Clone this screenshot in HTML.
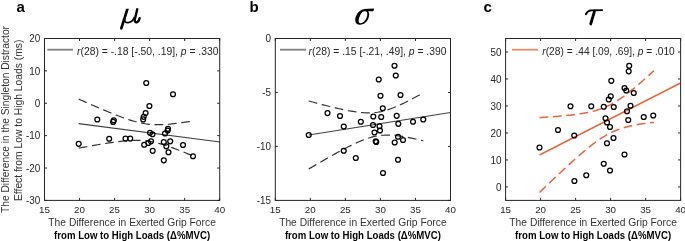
<!DOCTYPE html><html><head><meta charset="utf-8"><style>html,body{margin:0;padding:0;background:#fff;width:685px;height:241px;overflow:hidden}svg{display:block;will-change:transform}text{font-family:"Liberation Sans",sans-serif}</style></head><body>
<svg width="685" height="241" viewBox="0 0 685 241">
<text x="16.6" y="12.4" font-size="15" font-weight="bold" fill="#000">a</text>
<g transform="translate(116,4) scale(0.11619)" fill="none" stroke="#000" stroke-linecap="round"><path d="M87,40 L111,40 L58,208 Q53,222 43,221 Q32,219 35,205 Z" fill="#000" stroke="none"/><path d="M74,128 C70,152 85,163 106,160 C128,157 148,140 156,118" stroke-width="15"/><path d="M183,44 L163,128 C158,150 166,160 178,158 C190,156 199,140 204,122" stroke-width="20"/></g>
<path d="M78.7,99.12 L80.61,99.96 L82.51,100.81 L84.42,101.65 L86.32,102.49 L88.23,103.32 L90.13,104.15 L92.03,104.98 L93.94,105.81 L95.84,106.63 L97.75,107.45 L99.66,108.27 L101.56,109.07 L103.47,109.88 L105.37,110.67 L107.28,111.46 L109.18,112.25 L111.09,113.02 L112.99,113.79 L114.9,114.55 L116.8,115.29 L118.7,116.02 L120.61,116.74 L122.52,117.44 L124.42,118.13 L126.33,118.79 L128.23,119.44 L130.13,120.06 L132.04,120.65 L133.94,121.21 L135.85,121.74 L137.75,122.23 L139.66,122.68 L141.56,123.09 L143.47,123.46 L145.38,123.78 L147.28,124.05 L149.19,124.28 L151.09,124.45 L153,124.58 L154.9,124.67 L156.81,124.71 L158.71,124.72 L160.62,124.69 L162.52,124.62 L164.43,124.53 L166.33,124.4 L168.24,124.26 L170.14,124.09 L172.05,123.9 L173.95,123.69 L175.86,123.47 L177.76,123.23 L179.66,122.98 L181.57,122.72 L183.48,122.45 L185.38,122.18 L187.28,121.89 L189.19,121.59 L191.09,121.29 L193,120.98" fill="none" stroke="#333" stroke-width="1.2" stroke-dasharray="8.8,4.6"/>
<path d="M78.7,148.11 L80.61,147.76 L82.51,147.41 L84.42,147.07 L86.32,146.72 L88.23,146.38 L90.13,146.05 L92.03,145.71 L93.94,145.38 L95.84,145.06 L97.75,144.73 L99.66,144.41 L101.56,144.1 L103.47,143.79 L105.37,143.49 L107.28,143.2 L109.18,142.91 L111.09,142.63 L112.99,142.36 L114.9,142.1 L116.8,141.85 L118.7,141.61 L120.61,141.39 L122.52,141.19 L124.42,141 L126.33,140.83 L128.23,140.68 L130.13,140.56 L132.04,140.46 L133.94,140.39 L135.85,140.36 L137.75,140.37 L139.66,140.41 L141.56,140.49 L143.47,140.62 L145.38,140.8 L147.28,141.02 L149.19,141.29 L151.09,141.61 L153,141.98 L154.9,142.39 L156.81,142.84 L158.71,143.33 L160.62,143.86 L162.52,144.42 L164.43,145.01 L166.33,145.63 L168.24,146.27 L170.14,146.94 L172.05,147.62 L173.95,148.32 L175.86,149.04 L177.76,149.77 L179.66,150.52 L181.57,151.27 L183.48,152.04 L185.38,152.81 L187.28,153.6 L189.19,154.39 L191.09,155.19 L193,155.99" fill="none" stroke="#333" stroke-width="1.2" stroke-dasharray="8.8,4.6"/>
<line x1="78.6" y1="123.6" x2="220.0" y2="142.0" stroke="#404040" stroke-width="1.15"/>
<circle cx="78.7" cy="143.8" r="2.45" fill="none" stroke="#000" stroke-width="1.25"/>
<circle cx="97.3" cy="119.5" r="2.45" fill="none" stroke="#000" stroke-width="1.25"/>
<circle cx="109.2" cy="138.7" r="2.45" fill="none" stroke="#000" stroke-width="1.25"/>
<circle cx="113.8" cy="120.4" r="2.45" fill="none" stroke="#000" stroke-width="1.25"/>
<circle cx="113.1" cy="121.9" r="2.45" fill="none" stroke="#000" stroke-width="1.25"/>
<circle cx="125.5" cy="138.6" r="2.45" fill="none" stroke="#000" stroke-width="1.25"/>
<circle cx="130.2" cy="138.6" r="2.45" fill="none" stroke="#000" stroke-width="1.25"/>
<circle cx="146.25" cy="83" r="2.45" fill="none" stroke="#000" stroke-width="1.25"/>
<circle cx="149.4" cy="106" r="2.45" fill="none" stroke="#000" stroke-width="1.25"/>
<circle cx="145.6" cy="113.1" r="2.45" fill="none" stroke="#000" stroke-width="1.25"/>
<circle cx="143.7" cy="116.8" r="2.45" fill="none" stroke="#000" stroke-width="1.25"/>
<circle cx="143.2" cy="119.4" r="2.45" fill="none" stroke="#000" stroke-width="1.25"/>
<circle cx="173" cy="94.25" r="2.45" fill="none" stroke="#000" stroke-width="1.25"/>
<circle cx="168" cy="128.8" r="2.45" fill="none" stroke="#000" stroke-width="1.25"/>
<circle cx="167.6" cy="130.6" r="2.45" fill="none" stroke="#000" stroke-width="1.25"/>
<circle cx="165" cy="133.5" r="2.45" fill="none" stroke="#000" stroke-width="1.25"/>
<circle cx="150" cy="132.8" r="2.45" fill="none" stroke="#000" stroke-width="1.25"/>
<circle cx="152.5" cy="134.2" r="2.45" fill="none" stroke="#000" stroke-width="1.25"/>
<circle cx="144.2" cy="144.7" r="2.45" fill="none" stroke="#000" stroke-width="1.25"/>
<circle cx="148.3" cy="143" r="2.45" fill="none" stroke="#000" stroke-width="1.25"/>
<circle cx="151" cy="141.3" r="2.45" fill="none" stroke="#000" stroke-width="1.25"/>
<circle cx="152.7" cy="150.8" r="2.45" fill="none" stroke="#000" stroke-width="1.25"/>
<circle cx="163.8" cy="142" r="2.45" fill="none" stroke="#000" stroke-width="1.25"/>
<circle cx="166.3" cy="146.3" r="2.45" fill="none" stroke="#000" stroke-width="1.25"/>
<circle cx="170.2" cy="141.3" r="2.45" fill="none" stroke="#000" stroke-width="1.25"/>
<circle cx="168.5" cy="152.2" r="2.45" fill="none" stroke="#000" stroke-width="1.25"/>
<circle cx="163.8" cy="160.3" r="2.45" fill="none" stroke="#000" stroke-width="1.25"/>
<circle cx="183" cy="145" r="2.45" fill="none" stroke="#000" stroke-width="1.25"/>
<circle cx="193" cy="156.25" r="2.45" fill="none" stroke="#000" stroke-width="1.25"/>
<rect x="44.5" y="38.5" width="175.2" height="161.9" fill="none" stroke="#262626" stroke-width="1"/>
<line x1="44.5" y1="200.4" x2="44.5" y2="197.9" stroke="#262626" stroke-width="1"/>
<line x1="44.5" y1="38.5" x2="44.5" y2="41.0" stroke="#262626" stroke-width="1"/>
<text x="44.5" y="213" font-size="9.5" text-anchor="middle" fill="#262626" textLength="10.9" lengthAdjust="spacingAndGlyphs">15</text>
<line x1="79.54" y1="200.4" x2="79.54" y2="197.9" stroke="#262626" stroke-width="1"/>
<line x1="79.54" y1="38.5" x2="79.54" y2="41.0" stroke="#262626" stroke-width="1"/>
<text x="79.54" y="213" font-size="9.5" text-anchor="middle" fill="#262626" textLength="10.9" lengthAdjust="spacingAndGlyphs">20</text>
<line x1="114.58" y1="200.4" x2="114.58" y2="197.9" stroke="#262626" stroke-width="1"/>
<line x1="114.58" y1="38.5" x2="114.58" y2="41.0" stroke="#262626" stroke-width="1"/>
<text x="114.58" y="213" font-size="9.5" text-anchor="middle" fill="#262626" textLength="10.9" lengthAdjust="spacingAndGlyphs">25</text>
<line x1="149.62" y1="200.4" x2="149.62" y2="197.9" stroke="#262626" stroke-width="1"/>
<line x1="149.62" y1="38.5" x2="149.62" y2="41.0" stroke="#262626" stroke-width="1"/>
<text x="149.62" y="213" font-size="9.5" text-anchor="middle" fill="#262626" textLength="10.9" lengthAdjust="spacingAndGlyphs">30</text>
<line x1="184.66" y1="200.4" x2="184.66" y2="197.9" stroke="#262626" stroke-width="1"/>
<line x1="184.66" y1="38.5" x2="184.66" y2="41.0" stroke="#262626" stroke-width="1"/>
<text x="184.66" y="213" font-size="9.5" text-anchor="middle" fill="#262626" textLength="10.9" lengthAdjust="spacingAndGlyphs">35</text>
<line x1="219.7" y1="200.4" x2="219.7" y2="197.9" stroke="#262626" stroke-width="1"/>
<line x1="219.7" y1="38.5" x2="219.7" y2="41.0" stroke="#262626" stroke-width="1"/>
<text x="219.7" y="213" font-size="9.5" text-anchor="middle" fill="#262626" textLength="10.9" lengthAdjust="spacingAndGlyphs">40</text>
<line x1="44.5" y1="38.5" x2="47.0" y2="38.5" stroke="#262626" stroke-width="1"/>
<line x1="219.7" y1="38.5" x2="217.2" y2="38.5" stroke="#262626" stroke-width="1"/>
<text x="40.3" y="42.25" font-size="10.0" text-anchor="end" fill="#262626" textLength="11" lengthAdjust="spacingAndGlyphs">20</text>
<line x1="44.5" y1="70.88" x2="47.0" y2="70.88" stroke="#262626" stroke-width="1"/>
<line x1="219.7" y1="70.88" x2="217.2" y2="70.88" stroke="#262626" stroke-width="1"/>
<text x="40.3" y="74.63" font-size="10.0" text-anchor="end" fill="#262626" textLength="11" lengthAdjust="spacingAndGlyphs">10</text>
<line x1="44.5" y1="103.26" x2="47.0" y2="103.26" stroke="#262626" stroke-width="1"/>
<line x1="219.7" y1="103.26" x2="217.2" y2="103.26" stroke="#262626" stroke-width="1"/>
<text x="40.3" y="107.01" font-size="10.0" text-anchor="end" fill="#262626" textLength="5.5" lengthAdjust="spacingAndGlyphs">0</text>
<line x1="44.5" y1="135.64" x2="47.0" y2="135.64" stroke="#262626" stroke-width="1"/>
<line x1="219.7" y1="135.64" x2="217.2" y2="135.64" stroke="#262626" stroke-width="1"/>
<text x="40.3" y="139.39" font-size="10.0" text-anchor="end" fill="#262626" textLength="14.3" lengthAdjust="spacingAndGlyphs">-10</text>
<line x1="44.5" y1="168.02" x2="47.0" y2="168.02" stroke="#262626" stroke-width="1"/>
<line x1="219.7" y1="168.02" x2="217.2" y2="168.02" stroke="#262626" stroke-width="1"/>
<text x="40.3" y="171.77" font-size="10.0" text-anchor="end" fill="#262626" textLength="14.3" lengthAdjust="spacingAndGlyphs">-20</text>
<line x1="44.5" y1="200.4" x2="47.0" y2="200.4" stroke="#262626" stroke-width="1"/>
<line x1="219.7" y1="200.4" x2="217.2" y2="200.4" stroke="#262626" stroke-width="1"/>
<text x="40.3" y="204.15" font-size="10.0" text-anchor="end" fill="#262626" textLength="14.3" lengthAdjust="spacingAndGlyphs">-30</text>
<line x1="47.4" y1="49.7" x2="73.1" y2="49.7" stroke="#7f7f7f" stroke-width="1.8"/>
<text x="77" y="54.5" font-size="10.4" fill="#262626" textLength="141.5" lengthAdjust="spacingAndGlyphs"><tspan font-style="italic">r</tspan>(28) = -.18 [-.50, .19], <tspan font-style="italic">p</tspan> = .330</text>
<text x="132.1" y="225.8" font-size="10.5" text-anchor="middle" fill="#333" textLength="167.5" lengthAdjust="spacingAndGlyphs">The Difference in Exerted Grip Force</text>
<text x="132.1" y="238.7" font-size="10.3" textLength="156" lengthAdjust="spacingAndGlyphs" font-weight="bold" text-anchor="middle" fill="#000">from Low to High Loads (Δ%MVC)</text>
<text x="249.6" y="12.4" font-size="15" font-weight="bold" fill="#000">b</text>
<g transform="translate(350,4) scale(0.11619)" fill="#000" stroke="none"><path fill-rule="evenodd" d="M125,45 C75,45 42,105 45,145 C48,170 65,180 90,178 C135,175 165,130 165,90 C165,62 150,45 125,45 Z M130,60 C150,60 151,85 148,100 C141,135 116,166 93,166 C76,166 72,150 75,135 C82,100 102,60 130,60 Z"/><path d="M118,43 L203,39 C206,39 207,42 206,46 L204,56 C203,60 200,62 196,62 L125,62 Z"/></g>
<path d="M308.75,100.99 L310.66,101.51 L312.57,102.03 L314.48,102.54 L316.38,103.05 L318.29,103.56 L320.2,104.06 L322.11,104.56 L324.02,105.05 L325.93,105.54 L327.83,106.02 L329.74,106.49 L331.65,106.96 L333.56,107.43 L335.47,107.88 L337.38,108.32 L339.28,108.76 L341.19,109.18 L343.1,109.59 L345.01,109.99 L346.92,110.37 L348.82,110.74 L350.73,111.08 L352.64,111.41 L354.55,111.71 L356.46,111.99 L358.37,112.23 L360.27,112.45 L362.18,112.62 L364.09,112.76 L366,112.85 L367.91,112.9 L369.82,112.89 L371.73,112.82 L373.63,112.7 L375.54,112.51 L377.45,112.26 L379.36,111.94 L381.27,111.56 L383.18,111.12 L385.08,110.61 L386.99,110.05 L388.9,109.43 L390.81,108.75 L392.72,108.04 L394.62,107.28 L396.53,106.48 L398.44,105.64 L400.35,104.78 L402.26,103.89 L404.17,102.97 L406.07,102.03 L407.98,101.07 L409.89,100.09 L411.8,99.09 L413.71,98.08 L415.62,97.06 L417.52,96.03 L419.43,94.98 L421.34,93.93 L423.25,92.87" fill="none" stroke="#333" stroke-width="1.2" stroke-dasharray="8.8,4.6"/>
<path d="M308.75,169.01 L310.66,167.88 L312.57,166.76 L314.48,165.64 L316.38,164.53 L318.29,163.42 L320.2,162.31 L322.11,161.2 L324.02,160.11 L325.93,159.01 L327.83,157.92 L329.74,156.84 L331.65,155.77 L333.56,154.7 L335.47,153.64 L337.38,152.59 L339.28,151.55 L341.19,150.52 L343.1,149.5 L345.01,148.5 L346.92,147.51 L348.82,146.54 L350.73,145.59 L352.64,144.66 L354.55,143.75 L356.46,142.87 L358.37,142.01 L360.27,141.2 L362.18,140.41 L364.09,139.67 L366,138.97 L367.91,138.32 L369.82,137.72 L371.73,137.18 L373.63,136.7 L375.54,136.28 L377.45,135.93 L379.36,135.64 L381.27,135.42 L383.18,135.26 L385.08,135.16 L386.99,135.12 L388.9,135.13 L390.81,135.2 L392.72,135.31 L394.62,135.46 L396.53,135.65 L398.44,135.88 L400.35,136.14 L402.26,136.43 L404.17,136.74 L406.07,137.08 L407.98,137.43 L409.89,137.8 L411.8,138.19 L413.71,138.6 L415.62,139.01 L417.52,139.44 L419.43,139.88 L421.34,140.33 L423.25,140.79" fill="none" stroke="#333" stroke-width="1.2" stroke-dasharray="8.8,4.6"/>
<line x1="308.75" y1="135.0" x2="450.5" y2="112.5" stroke="#404040" stroke-width="1.15"/>
<circle cx="308.75" cy="135" r="2.45" fill="none" stroke="#000" stroke-width="1.25"/>
<circle cx="327.5" cy="113.1" r="2.45" fill="none" stroke="#000" stroke-width="1.25"/>
<circle cx="340" cy="116" r="2.45" fill="none" stroke="#000" stroke-width="1.25"/>
<circle cx="343.75" cy="126.5" r="2.45" fill="none" stroke="#000" stroke-width="1.25"/>
<circle cx="343.75" cy="150.75" r="2.45" fill="none" stroke="#000" stroke-width="1.25"/>
<circle cx="360.8" cy="121.7" r="2.45" fill="none" stroke="#000" stroke-width="1.25"/>
<circle cx="373.3" cy="116.5" r="2.45" fill="none" stroke="#000" stroke-width="1.25"/>
<circle cx="381.2" cy="117" r="2.45" fill="none" stroke="#000" stroke-width="1.25"/>
<circle cx="373" cy="125" r="2.45" fill="none" stroke="#000" stroke-width="1.25"/>
<circle cx="379.5" cy="126.2" r="2.45" fill="none" stroke="#000" stroke-width="1.25"/>
<circle cx="374.5" cy="132.5" r="2.45" fill="none" stroke="#000" stroke-width="1.25"/>
<circle cx="380" cy="130.5" r="2.45" fill="none" stroke="#000" stroke-width="1.25"/>
<circle cx="375.7" cy="141.2" r="2.45" fill="none" stroke="#000" stroke-width="1.25"/>
<circle cx="376.3" cy="142" r="2.45" fill="none" stroke="#000" stroke-width="1.25"/>
<circle cx="382.8" cy="108.2" r="2.45" fill="none" stroke="#000" stroke-width="1.25"/>
<circle cx="383" cy="173" r="2.45" fill="none" stroke="#000" stroke-width="1.25"/>
<circle cx="378.75" cy="79.5" r="2.45" fill="none" stroke="#000" stroke-width="1.25"/>
<circle cx="380.5" cy="95.75" r="2.45" fill="none" stroke="#000" stroke-width="1.25"/>
<circle cx="394.5" cy="65.75" r="2.45" fill="none" stroke="#000" stroke-width="1.25"/>
<circle cx="395.75" cy="75.5" r="2.45" fill="none" stroke="#000" stroke-width="1.25"/>
<circle cx="400.5" cy="95" r="2.45" fill="none" stroke="#000" stroke-width="1.25"/>
<circle cx="396.7" cy="115.8" r="2.45" fill="none" stroke="#000" stroke-width="1.25"/>
<circle cx="398.3" cy="123.8" r="2.45" fill="none" stroke="#000" stroke-width="1.25"/>
<circle cx="398" cy="136.7" r="2.45" fill="none" stroke="#000" stroke-width="1.25"/>
<circle cx="403" cy="140" r="2.45" fill="none" stroke="#000" stroke-width="1.25"/>
<circle cx="394.7" cy="142.5" r="2.45" fill="none" stroke="#000" stroke-width="1.25"/>
<circle cx="398" cy="159.7" r="2.45" fill="none" stroke="#000" stroke-width="1.25"/>
<circle cx="413" cy="121.75" r="2.45" fill="none" stroke="#000" stroke-width="1.25"/>
<circle cx="423.25" cy="119.5" r="2.45" fill="none" stroke="#000" stroke-width="1.25"/>
<circle cx="355.8" cy="158" r="2.45" fill="none" stroke="#000" stroke-width="1.25"/>
<rect x="275.3" y="38.5" width="175.2" height="161.9" fill="none" stroke="#262626" stroke-width="1"/>
<line x1="275.3" y1="200.4" x2="275.3" y2="197.9" stroke="#262626" stroke-width="1"/>
<line x1="275.3" y1="38.5" x2="275.3" y2="41.0" stroke="#262626" stroke-width="1"/>
<text x="275.3" y="213" font-size="9.5" text-anchor="middle" fill="#262626" textLength="10.9" lengthAdjust="spacingAndGlyphs">15</text>
<line x1="310.34" y1="200.4" x2="310.34" y2="197.9" stroke="#262626" stroke-width="1"/>
<line x1="310.34" y1="38.5" x2="310.34" y2="41.0" stroke="#262626" stroke-width="1"/>
<text x="310.34" y="213" font-size="9.5" text-anchor="middle" fill="#262626" textLength="10.9" lengthAdjust="spacingAndGlyphs">20</text>
<line x1="345.38" y1="200.4" x2="345.38" y2="197.9" stroke="#262626" stroke-width="1"/>
<line x1="345.38" y1="38.5" x2="345.38" y2="41.0" stroke="#262626" stroke-width="1"/>
<text x="345.38" y="213" font-size="9.5" text-anchor="middle" fill="#262626" textLength="10.9" lengthAdjust="spacingAndGlyphs">25</text>
<line x1="380.42" y1="200.4" x2="380.42" y2="197.9" stroke="#262626" stroke-width="1"/>
<line x1="380.42" y1="38.5" x2="380.42" y2="41.0" stroke="#262626" stroke-width="1"/>
<text x="380.42" y="213" font-size="9.5" text-anchor="middle" fill="#262626" textLength="10.9" lengthAdjust="spacingAndGlyphs">30</text>
<line x1="415.46" y1="200.4" x2="415.46" y2="197.9" stroke="#262626" stroke-width="1"/>
<line x1="415.46" y1="38.5" x2="415.46" y2="41.0" stroke="#262626" stroke-width="1"/>
<text x="415.46" y="213" font-size="9.5" text-anchor="middle" fill="#262626" textLength="10.9" lengthAdjust="spacingAndGlyphs">35</text>
<line x1="450.5" y1="200.4" x2="450.5" y2="197.9" stroke="#262626" stroke-width="1"/>
<line x1="450.5" y1="38.5" x2="450.5" y2="41.0" stroke="#262626" stroke-width="1"/>
<text x="450.5" y="213" font-size="9.5" text-anchor="middle" fill="#262626" textLength="10.9" lengthAdjust="spacingAndGlyphs">40</text>
<line x1="275.3" y1="38.5" x2="277.8" y2="38.5" stroke="#262626" stroke-width="1"/>
<line x1="450.5" y1="38.5" x2="448.0" y2="38.5" stroke="#262626" stroke-width="1"/>
<text x="271.1" y="42.25" font-size="10.0" text-anchor="end" fill="#262626" textLength="5.5" lengthAdjust="spacingAndGlyphs">0</text>
<line x1="275.3" y1="92.47" x2="277.8" y2="92.47" stroke="#262626" stroke-width="1"/>
<line x1="450.5" y1="92.47" x2="448.0" y2="92.47" stroke="#262626" stroke-width="1"/>
<text x="271.1" y="96.22" font-size="10.0" text-anchor="end" fill="#262626" textLength="8.8" lengthAdjust="spacingAndGlyphs">-5</text>
<line x1="275.3" y1="146.43" x2="277.8" y2="146.43" stroke="#262626" stroke-width="1"/>
<line x1="450.5" y1="146.43" x2="448.0" y2="146.43" stroke="#262626" stroke-width="1"/>
<text x="271.1" y="150.18" font-size="10.0" text-anchor="end" fill="#262626" textLength="14.3" lengthAdjust="spacingAndGlyphs">-10</text>
<line x1="275.3" y1="200.4" x2="277.8" y2="200.4" stroke="#262626" stroke-width="1"/>
<line x1="450.5" y1="200.4" x2="448.0" y2="200.4" stroke="#262626" stroke-width="1"/>
<text x="271.1" y="204.15" font-size="10.0" text-anchor="end" fill="#262626" textLength="14.3" lengthAdjust="spacingAndGlyphs">-15</text>
<line x1="280" y1="49.7" x2="306" y2="49.7" stroke="#7f7f7f" stroke-width="1.8"/>
<text x="308.6" y="54.5" font-size="10.4" fill="#262626" textLength="137.8" lengthAdjust="spacingAndGlyphs"><tspan font-style="italic">r</tspan>(28) = .15 [-.21, .49], <tspan font-style="italic">p</tspan> = .390</text>
<text x="362.9" y="225.8" font-size="10.5" text-anchor="middle" fill="#333" textLength="167.5" lengthAdjust="spacingAndGlyphs">The Difference in Exerted Grip Force</text>
<text x="362.9" y="238.7" font-size="10.3" textLength="156" lengthAdjust="spacingAndGlyphs" font-weight="bold" text-anchor="middle" fill="#000">from Low to High Loads (Δ%MVC)</text>
<text x="483.6" y="12.4" font-size="15" font-weight="bold" fill="#000">c</text>
<g transform="translate(580,4) scale(0.11619)" fill="none" stroke="#000" stroke-linecap="round"><path d="M50,88 C60,68 75,56 95,55 L190,53" stroke-width="16"/><path d="M125,62 L92,172" stroke-width="24"/></g>
<path d="M539.5,117.5 L541.41,117.39 L543.32,117.29 L545.23,117.17 L547.13,117.06 L549.04,116.93 L550.95,116.81 L552.86,116.68 L554.77,116.54 L556.67,116.39 L558.58,116.24 L560.49,116.09 L562.4,115.92 L564.31,115.75 L566.22,115.56 L568.12,115.37 L570.03,115.17 L571.94,114.95 L573.85,114.72 L575.76,114.47 L577.67,114.21 L579.58,113.93 L581.48,113.63 L583.39,113.3 L585.3,112.96 L587.21,112.58 L589.12,112.18 L591.02,111.74 L592.93,111.26 L594.84,110.75 L596.75,110.19 L598.66,109.59 L600.57,108.93 L602.48,108.22 L604.38,107.46 L606.29,106.63 L608.2,105.75 L610.11,104.8 L612.02,103.79 L613.92,102.72 L615.83,101.59 L617.74,100.4 L619.65,99.15 L621.56,97.85 L623.47,96.5 L625.38,95.11 L627.28,93.67 L629.19,92.19 L631.1,90.67 L633.01,89.13 L634.92,87.55 L636.83,85.95 L638.73,84.32 L640.64,82.67 L642.55,81 L644.46,79.31 L646.37,77.6 L648.27,75.89 L650.18,74.15 L652.09,72.41 L654,70.65" fill="none" stroke="#e8643a" stroke-width="1.5" stroke-dasharray="8.8,4.6"/>
<path d="M539.5,192.5 L541.41,190.66 L543.32,188.82 L545.23,186.98 L547.13,185.15 L549.04,183.32 L550.95,181.5 L552.86,179.68 L554.77,177.87 L556.67,176.06 L558.58,174.27 L560.49,172.47 L562.4,170.69 L564.31,168.92 L566.22,167.15 L568.12,165.39 L570.03,163.65 L571.94,161.92 L573.85,160.2 L575.76,158.5 L577.67,156.81 L579.58,155.14 L581.48,153.5 L583.39,151.87 L585.3,150.27 L587.21,148.7 L589.12,147.15 L591.02,145.64 L592.93,144.17 L594.84,142.73 L596.75,141.34 L598.66,140 L600.57,138.7 L602.48,137.46 L604.38,136.28 L606.29,135.15 L608.2,134.09 L610.11,133.09 L612.02,132.15 L613.92,131.27 L615.83,130.45 L617.74,129.69 L619.65,128.99 L621.56,128.34 L623.47,127.74 L625.38,127.19 L627.28,126.68 L629.19,126.21 L631.1,125.78 L633.01,125.38 L634.92,125 L636.83,124.66 L638.73,124.34 L640.64,124.04 L642.55,123.76 L644.46,123.5 L646.37,123.25 L648.27,123.03 L650.18,122.81 L652.09,122.61 L654,122.41" fill="none" stroke="#e8643a" stroke-width="1.5" stroke-dasharray="8.8,4.6"/>
<line x1="539.5" y1="155.0" x2="680.5" y2="83.0" stroke="#e8643a" stroke-width="1.45"/>
<circle cx="539.5" cy="147.5" r="2.45" fill="none" stroke="#000" stroke-width="1.25"/>
<circle cx="558" cy="130" r="2.45" fill="none" stroke="#000" stroke-width="1.25"/>
<circle cx="570.5" cy="106.25" r="2.45" fill="none" stroke="#000" stroke-width="1.25"/>
<circle cx="574.25" cy="135.5" r="2.45" fill="none" stroke="#000" stroke-width="1.25"/>
<circle cx="574.4" cy="181" r="2.45" fill="none" stroke="#000" stroke-width="1.25"/>
<circle cx="586.25" cy="175.25" r="2.45" fill="none" stroke="#000" stroke-width="1.25"/>
<circle cx="591.25" cy="106.25" r="2.45" fill="none" stroke="#000" stroke-width="1.25"/>
<circle cx="603.75" cy="106.75" r="2.45" fill="none" stroke="#000" stroke-width="1.25"/>
<circle cx="608.75" cy="99.5" r="2.45" fill="none" stroke="#000" stroke-width="1.25"/>
<circle cx="610.75" cy="96.25" r="2.45" fill="none" stroke="#000" stroke-width="1.25"/>
<circle cx="613.75" cy="107" r="2.45" fill="none" stroke="#000" stroke-width="1.25"/>
<circle cx="605.5" cy="118.25" r="2.45" fill="none" stroke="#000" stroke-width="1.25"/>
<circle cx="607" cy="122.5" r="2.45" fill="none" stroke="#000" stroke-width="1.25"/>
<circle cx="610" cy="127" r="2.45" fill="none" stroke="#000" stroke-width="1.25"/>
<circle cx="613.5" cy="138" r="2.45" fill="none" stroke="#000" stroke-width="1.25"/>
<circle cx="607" cy="143.25" r="2.45" fill="none" stroke="#000" stroke-width="1.25"/>
<circle cx="624.5" cy="154.5" r="2.45" fill="none" stroke="#000" stroke-width="1.25"/>
<circle cx="603.75" cy="163.75" r="2.45" fill="none" stroke="#000" stroke-width="1.25"/>
<circle cx="610" cy="170.5" r="2.45" fill="none" stroke="#000" stroke-width="1.25"/>
<circle cx="624.5" cy="88" r="2.45" fill="none" stroke="#000" stroke-width="1.25"/>
<circle cx="626.25" cy="90.5" r="2.45" fill="none" stroke="#000" stroke-width="1.25"/>
<circle cx="633.75" cy="93" r="2.45" fill="none" stroke="#000" stroke-width="1.25"/>
<circle cx="630.5" cy="105.75" r="2.45" fill="none" stroke="#000" stroke-width="1.25"/>
<circle cx="627" cy="111.25" r="2.45" fill="none" stroke="#000" stroke-width="1.25"/>
<circle cx="628.25" cy="120" r="2.45" fill="none" stroke="#000" stroke-width="1.25"/>
<circle cx="643.75" cy="117" r="2.45" fill="none" stroke="#000" stroke-width="1.25"/>
<circle cx="653.25" cy="115.5" r="2.45" fill="none" stroke="#000" stroke-width="1.25"/>
<circle cx="629.2" cy="65.8" r="2.45" fill="none" stroke="#000" stroke-width="1.25"/>
<circle cx="628.7" cy="71.3" r="2.45" fill="none" stroke="#000" stroke-width="1.25"/>
<circle cx="611.3" cy="80.8" r="2.45" fill="none" stroke="#000" stroke-width="1.25"/>
<rect x="505.6" y="38.5" width="175.0" height="161.9" fill="none" stroke="#262626" stroke-width="1"/>
<line x1="505.6" y1="200.4" x2="505.6" y2="197.9" stroke="#262626" stroke-width="1"/>
<line x1="505.6" y1="38.5" x2="505.6" y2="41.0" stroke="#262626" stroke-width="1"/>
<text x="505.6" y="213" font-size="9.5" text-anchor="middle" fill="#262626" textLength="10.9" lengthAdjust="spacingAndGlyphs">15</text>
<line x1="540.6" y1="200.4" x2="540.6" y2="197.9" stroke="#262626" stroke-width="1"/>
<line x1="540.6" y1="38.5" x2="540.6" y2="41.0" stroke="#262626" stroke-width="1"/>
<text x="540.6" y="213" font-size="9.5" text-anchor="middle" fill="#262626" textLength="10.9" lengthAdjust="spacingAndGlyphs">20</text>
<line x1="575.6" y1="200.4" x2="575.6" y2="197.9" stroke="#262626" stroke-width="1"/>
<line x1="575.6" y1="38.5" x2="575.6" y2="41.0" stroke="#262626" stroke-width="1"/>
<text x="575.6" y="213" font-size="9.5" text-anchor="middle" fill="#262626" textLength="10.9" lengthAdjust="spacingAndGlyphs">25</text>
<line x1="610.6" y1="200.4" x2="610.6" y2="197.9" stroke="#262626" stroke-width="1"/>
<line x1="610.6" y1="38.5" x2="610.6" y2="41.0" stroke="#262626" stroke-width="1"/>
<text x="610.6" y="213" font-size="9.5" text-anchor="middle" fill="#262626" textLength="10.9" lengthAdjust="spacingAndGlyphs">30</text>
<line x1="645.6" y1="200.4" x2="645.6" y2="197.9" stroke="#262626" stroke-width="1"/>
<line x1="645.6" y1="38.5" x2="645.6" y2="41.0" stroke="#262626" stroke-width="1"/>
<text x="645.6" y="213" font-size="9.5" text-anchor="middle" fill="#262626" textLength="10.9" lengthAdjust="spacingAndGlyphs">35</text>
<line x1="680.6" y1="200.4" x2="680.6" y2="197.9" stroke="#262626" stroke-width="1"/>
<line x1="680.6" y1="38.5" x2="680.6" y2="41.0" stroke="#262626" stroke-width="1"/>
<text x="680.6" y="213" font-size="9.5" text-anchor="middle" fill="#262626" textLength="10.9" lengthAdjust="spacingAndGlyphs">40</text>
<line x1="505.6" y1="51.99" x2="508.1" y2="51.99" stroke="#262626" stroke-width="1"/>
<line x1="680.6" y1="51.99" x2="678.1" y2="51.99" stroke="#262626" stroke-width="1"/>
<text x="501.40000000000003" y="55.74" font-size="10.0" text-anchor="end" fill="#262626" textLength="11" lengthAdjust="spacingAndGlyphs">50</text>
<line x1="505.6" y1="78.97" x2="508.1" y2="78.97" stroke="#262626" stroke-width="1"/>
<line x1="680.6" y1="78.97" x2="678.1" y2="78.97" stroke="#262626" stroke-width="1"/>
<text x="501.40000000000003" y="82.72" font-size="10.0" text-anchor="end" fill="#262626" textLength="11" lengthAdjust="spacingAndGlyphs">40</text>
<line x1="505.6" y1="105.96" x2="508.1" y2="105.96" stroke="#262626" stroke-width="1"/>
<line x1="680.6" y1="105.96" x2="678.1" y2="105.96" stroke="#262626" stroke-width="1"/>
<text x="501.40000000000003" y="109.71" font-size="10.0" text-anchor="end" fill="#262626" textLength="11" lengthAdjust="spacingAndGlyphs">30</text>
<line x1="505.6" y1="132.94" x2="508.1" y2="132.94" stroke="#262626" stroke-width="1"/>
<line x1="680.6" y1="132.94" x2="678.1" y2="132.94" stroke="#262626" stroke-width="1"/>
<text x="501.40000000000003" y="136.69" font-size="10.0" text-anchor="end" fill="#262626" textLength="11" lengthAdjust="spacingAndGlyphs">20</text>
<line x1="505.6" y1="159.93" x2="508.1" y2="159.93" stroke="#262626" stroke-width="1"/>
<line x1="680.6" y1="159.93" x2="678.1" y2="159.93" stroke="#262626" stroke-width="1"/>
<text x="501.40000000000003" y="163.68" font-size="10.0" text-anchor="end" fill="#262626" textLength="11" lengthAdjust="spacingAndGlyphs">10</text>
<line x1="505.6" y1="186.91" x2="508.1" y2="186.91" stroke="#262626" stroke-width="1"/>
<line x1="680.6" y1="186.91" x2="678.1" y2="186.91" stroke="#262626" stroke-width="1"/>
<text x="501.40000000000003" y="190.66" font-size="10.0" text-anchor="end" fill="#262626" textLength="5.5" lengthAdjust="spacingAndGlyphs">0</text>
<line x1="512" y1="49.7" x2="538" y2="49.7" stroke="#ec8a66" stroke-width="1.8"/>
<text x="542.3" y="54.5" font-size="10.4" fill="#262626" textLength="132.5" lengthAdjust="spacingAndGlyphs"><tspan font-style="italic">r</tspan>(28) = .44 [.09, .69], <tspan font-style="italic">p</tspan> = .010</text>
<text x="593.1" y="225.8" font-size="10.5" text-anchor="middle" fill="#333" textLength="167.5" lengthAdjust="spacingAndGlyphs">The Difference in Exerted Grip Force</text>
<text x="593.1" y="238.7" font-size="10.3" textLength="156" lengthAdjust="spacingAndGlyphs" font-weight="bold" text-anchor="middle" fill="#000">from Low to High Loads (Δ%MVC)</text>
<text transform="translate(8.7,119.5) rotate(-90)" font-size="10.5" text-anchor="middle" fill="#333" textLength="187" lengthAdjust="spacingAndGlyphs">The Difference in the Singleton Distractor</text>
<text transform="translate(21.7,120.3) rotate(-90)" font-size="10.5" text-anchor="middle" fill="#333" textLength="161.5" lengthAdjust="spacingAndGlyphs">Effect from Low to High Loads (ms)</text>
</svg></body></html>
